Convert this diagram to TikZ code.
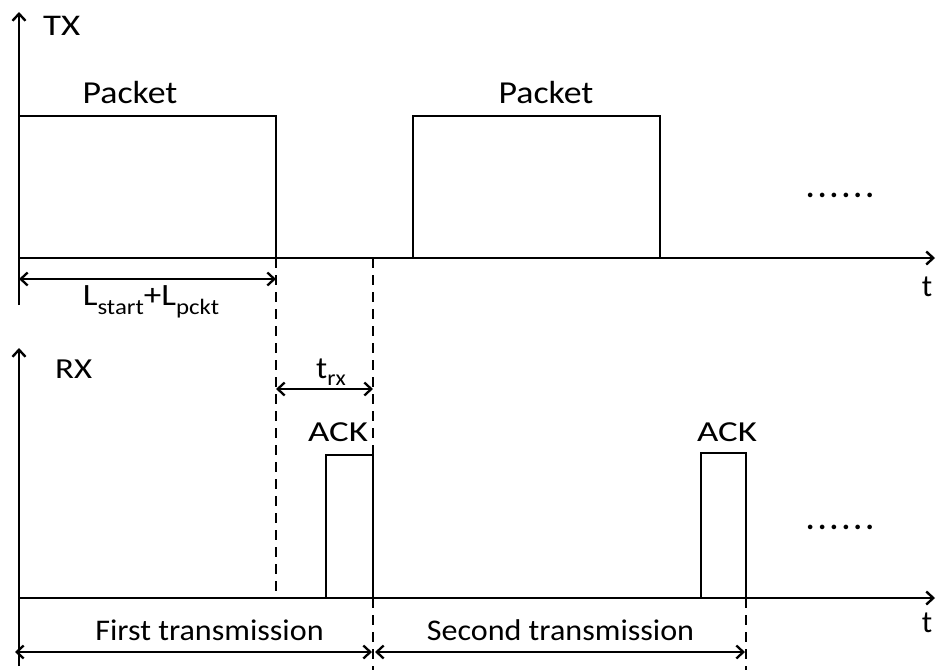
\documentclass[tikz,border=0pt]{standalone}
\usepackage{fontspec}
\setmainfont{Carlito}
\usetikzlibrary{arrows.meta}
\newcommand{\lowsub}[2][9pt]{\raisebox{-#1}{\fontsize{22}{22}\selectfont #2}}
\newcommand{\stretchx}[2]{\scalebox{#1}[1]{#2}}
\newcommand{\dotrow}{.\kern3.6pt.\kern3.6pt.\kern3.6pt.\kern3.6pt.\kern3.6pt.}
\tikzset{
  axis/.style={line width=2.8pt, -{Straight Barb[length=7pt,width=13pt,line width=2.4pt]}},
  pulse/.style={draw, line width=2.6pt, inner sep=0pt, outer sep=0pt, anchor=south west},
  guide/.style={line width=2.5pt, dash pattern=on 10pt off 7pt},
  dim/.style={line width=2.5pt, {Straight Barb[length=7pt,width=13pt,line width=2.3pt]}-{Straight Barb[length=7pt,width=13pt,line width=2.3pt]}},
  lbl/.style={inner sep=0pt, anchor=base, font=\fontsize{31}{37}\selectfont},
}
\begin{document}
\begin{tikzpicture}[x=1pt,y=1pt]
\useasboundingbox (0,0) rectangle (936,-670);
% axes origins and ends
\coordinate (txb) at (19,-305);
\coordinate (txt) at (19,-12);
\coordinate (tx0) at (19,-258);
\coordinate (txe) at (935,-258);
\coordinate (rxb) at (19,-666);
\coordinate (rxt) at (19,-348);
\coordinate (rx0) at (19,-598);
\coordinate (rxe) at (935,-598);
% pulses
\node[pulse, minimum width=257pt, minimum height=142pt] (p1) at (19,-258) {};
\node[pulse, minimum width=247pt, minimum height=142pt] (p2) at (413,-258) {};
\node[pulse, minimum width=47pt, minimum height=143pt] (a1) at (326,-598) {};
\node[pulse, minimum width=45pt, minimum height=145pt] (a2) at (701,-598) {};
% axes
\draw[axis] (txb) -- (txt);
\draw[axis] (tx0) -- (txe);
\draw[axis] (rxb) -- (rxt);
\draw[axis] (rx0) -- (rxe);
% guide lines
\coordinate (g1t) at (276,-258);
\coordinate (g1b) at (276,-598);
\coordinate (g2t) at (373,-258);
\coordinate (g2b) at (373,-670);
\coordinate (g3t) at (746,-598);
\coordinate (g3b) at (746,-670);
\draw[guide] (g1t) -- (g1b);
\draw[guide] (g2t) -- (g2b);
\draw[guide] (g3t) -- (g3b);
% dimension arrows
\coordinate (l0) at (19,-279);
\coordinate (l1) at (276,-279);
\draw[dim] (l0) -- (l1);
\coordinate (r0) at (276,-389);
\coordinate (r1) at (373,-389);
\draw[dim] (r0) -- (r1);
\coordinate (f0) at (15,-652);
\coordinate (f1) at (372,-652);
\draw[dim] (f0) -- (f1);
\coordinate (s0) at (375,-652);
\coordinate (s1) at (745,-652);
\draw[dim] (s0) -- (s1);
% labels
\node[lbl, anchor=base west, font=\fontsize{30}{36}\selectfont] (ltx) at (43,-35) {\stretchx{1.23}{TX}};
\node[lbl, anchor=base west, font=\fontsize{29}{36}\selectfont] (lrx) at (55,-378) {\stretchx{1.2}{RX}};
\node[lbl, font=\fontsize{32}{38}\selectfont] (lp1) at (130,-103) {\stretchx{1.12}{Packet}};
\node[lbl, font=\fontsize{32}{38}\selectfont] (lp2) at (546,-103) {\stretchx{1.12}{Packet}};
\node[lbl] (ll) at (151,-305) {\stretchx{1.13}{L\lowsub{start}+L\lowsub{pckt}}};
\node[lbl] (ltrx) at (331,-378) {\stretchx{1.07}{t\lowsub[7pt]{rx}}};
\node[lbl, font=\fontsize{29}{36}\selectfont] (lack1) at (338,-441) {\stretchx{1.27}{ACK}};
\node[lbl, font=\fontsize{29}{36}\selectfont] (lack2) at (727,-441) {\stretchx{1.27}{ACK}};
\node[lbl] (lt1) at (927,-296) {t};
\node[lbl] (lt2) at (927,-632) {t};
\node[lbl, font=\fontsize{31}{37}\bfseries] (ld1) at (840,-197) {\dotrow};
\node[lbl, font=\fontsize{31}{37}\bfseries] (ld2) at (840,-529) {\dotrow};
\node[lbl, font=\fontsize{30}{36}\selectfont] (lf) at (209.5,-640) {\stretchx{1.07}{First transmission}};
\node[lbl, font=\fontsize{30}{36}\selectfont] (ls) at (560.5,-640) {\stretchx{1.07}{Second transmission}};
\end{tikzpicture}
\end{document}
